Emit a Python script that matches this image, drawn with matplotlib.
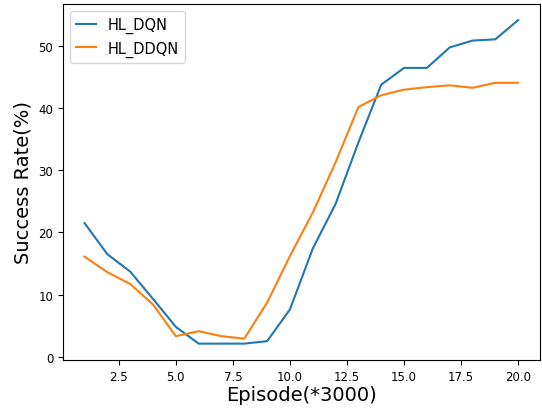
import matplotlib
matplotlib.use('Agg')
import matplotlib.pyplot as plt

# episodios (*3000) y tasa de exito (%)
episodios = list(range(1, 21))
hl_dqn = [21.5, 16.5, 13.7, 9.3, 4.8, 2.1, 2.1, 2.1, 2.5, 7.6,
          17.4, 24.6, 34.5, 43.8, 46.5, 46.5, 49.8, 50.9, 51.1, 54.2]
hl_ddqn = [16.1, 13.6, 11.7, 8.4, 3.3, 4.1, 3.3, 2.9, 8.7, 16.2,
           23.2, 31.3, 40.2, 42.1, 43.0, 43.4, 43.7, 43.3, 44.1, 44.1]

fig = plt.figure(figsize=(5.42, 4.10), dpi=100)
ax = fig.add_axes([0.116, 0.12, 0.88, 0.868])

ax.plot(episodios, hl_dqn, label='HL_DQN')
ax.plot(episodios, hl_ddqn, label='HL_DDQN')

ax.set_xlabel('Episode(*3000)', fontsize=14, labelpad=2)
ax.set_ylabel('Success Rate(%)', fontsize=14)
ax.tick_params(labelsize=8.5)
ax.legend(loc='upper left', fontsize=10.5, handlelength=1.4)

fig.savefig('out.png', dpi=100)
